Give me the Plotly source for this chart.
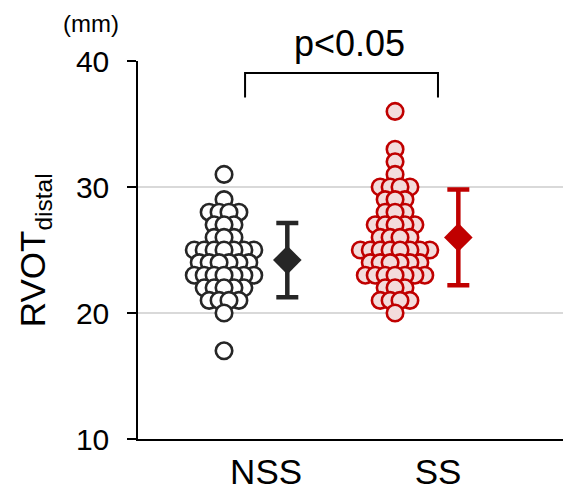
import numpy as np
import plotly.graph_objects as go

# ---- data ----
groups = ["NSS", "SS"]
nss_levels = [17, 20, 21, 22, 23, 24, 25, 26, 27, 28, 29, 31]
nss_counts = [1, 1, 4, 5, 7, 6, 7, 3, 3, 4, 1, 1]
ss_levels = [20, 21, 22, 23, 24, 25, 26, 27, 28, 29, 30, 31, 32, 33, 36]
ss_counts = [1, 4, 3, 7, 6, 8, 4, 5, 3, 3, 4, 1, 1, 1, 1]
means = [24.2, 26.0]
sds = [2.95, 3.8]
y_ticks = [10, 20, 30, 40]
p_text = "p<0.05"

# ---- styling / layout ----
FONT = "Arial, Liberation Sans, sans-serif"
colors_line = ["#262626", "#c00000"]
colors_fill = ["#ffffff", "#f3dcdc"]
centers = [1.0, 2.0]
err_offset = 0.37
spacing = 0.058

fig = go.Figure()

for gi, (levels, counts) in enumerate([(nss_levels, nss_counts), (ss_levels, ss_counts)]):
    xs, ys = [], []
    for lv, n in sorted(zip(levels, counts), key=lambda t: -t[0]):
        offs = (np.arange(n) - (n - 1) / 2) * spacing
        order = np.argsort(-np.abs(offs))
        for k in order:
            xs.append(centers[gi] + offs[k])
            ys.append(lv)
    fig.add_trace(go.Scatter(
        x=xs, y=ys, mode="markers",
        marker=dict(size=16.5, color=colors_fill[gi],
                    line=dict(color=colors_line[gi], width=2.6)),
        showlegend=False, hoverinfo="y"))
    fig.add_trace(go.Scatter(
        x=[centers[gi] + err_offset], y=[means[gi]], mode="markers",
        marker=dict(symbol="diamond", size=22, color=colors_line[gi]),
        error_y=dict(type="data", array=[sds[gi]], color=colors_line[gi],
                     thickness=4.5, width=11),
        showlegend=False))

# significance bracket
bx0, bx1 = 1.123, 2.251
fig.add_shape(type="path",
              path=f"M {bx0},37.1 L {bx0},39.05 L {bx1},39.05 L {bx1},37.1",
              line=dict(color="#000000", width=2), xref="x", yref="y")

fig.add_annotation(text=p_text, x=1.731, xref="x", y=1.045, yref="paper",
                   showarrow=False, font=dict(size=36, color="#000", family=FONT),
                   xanchor="center", yanchor="middle")
fig.add_annotation(text="(mm)", x=-0.111, xref="paper", y=1.098, yref="paper",
                   showarrow=False, font=dict(size=24, color="#000", family=FONT),
                   xanchor="center", yanchor="middle")
fig.add_annotation(text="RVOT<sub>distal</sub>", x=-0.242, xref="paper", y=0.5, yref="paper",
                   showarrow=False, textangle=-90,
                   font=dict(size=35, color="#000", family=FONT),
                   xanchor="center", yanchor="middle")

fig.update_layout(
    width=569, height=494,
    margin=dict(l=138, r=6, t=61, b=55, autoexpand=False),
    plot_bgcolor="white", paper_bgcolor="white",
    font=dict(family=FONT, color="#000"),
    xaxis=dict(range=[0.497, 2.982], tickvals=[1.246, 2.251], ticktext=groups,
               showgrid=False, zeroline=False, showline=True, linecolor="#000",
               linewidth=1.5, ticks="", ticklabelstandoff=1, automargin=False,
               tickfont=dict(size=35, family=FONT, color="#000")),
    yaxis=dict(range=[10, 40], tickvals=y_ticks, showgrid=True, gridcolor="#d9d9d9",
               gridwidth=1.5, zeroline=False, showline=True, linecolor="#000",
               linewidth=1.5, ticks="outside", ticklen=9, tickwidth=1.5, tickcolor="#000",
               ticklabelstandoff=12, automargin=False,
               tickfont=dict(size=30, family=FONT, color="#000")),
)

fig.write_html("out.html", config={"displayModeBar": False},
               post_script="document.body.style.margin='0';document.body.style.overflow='hidden';")
